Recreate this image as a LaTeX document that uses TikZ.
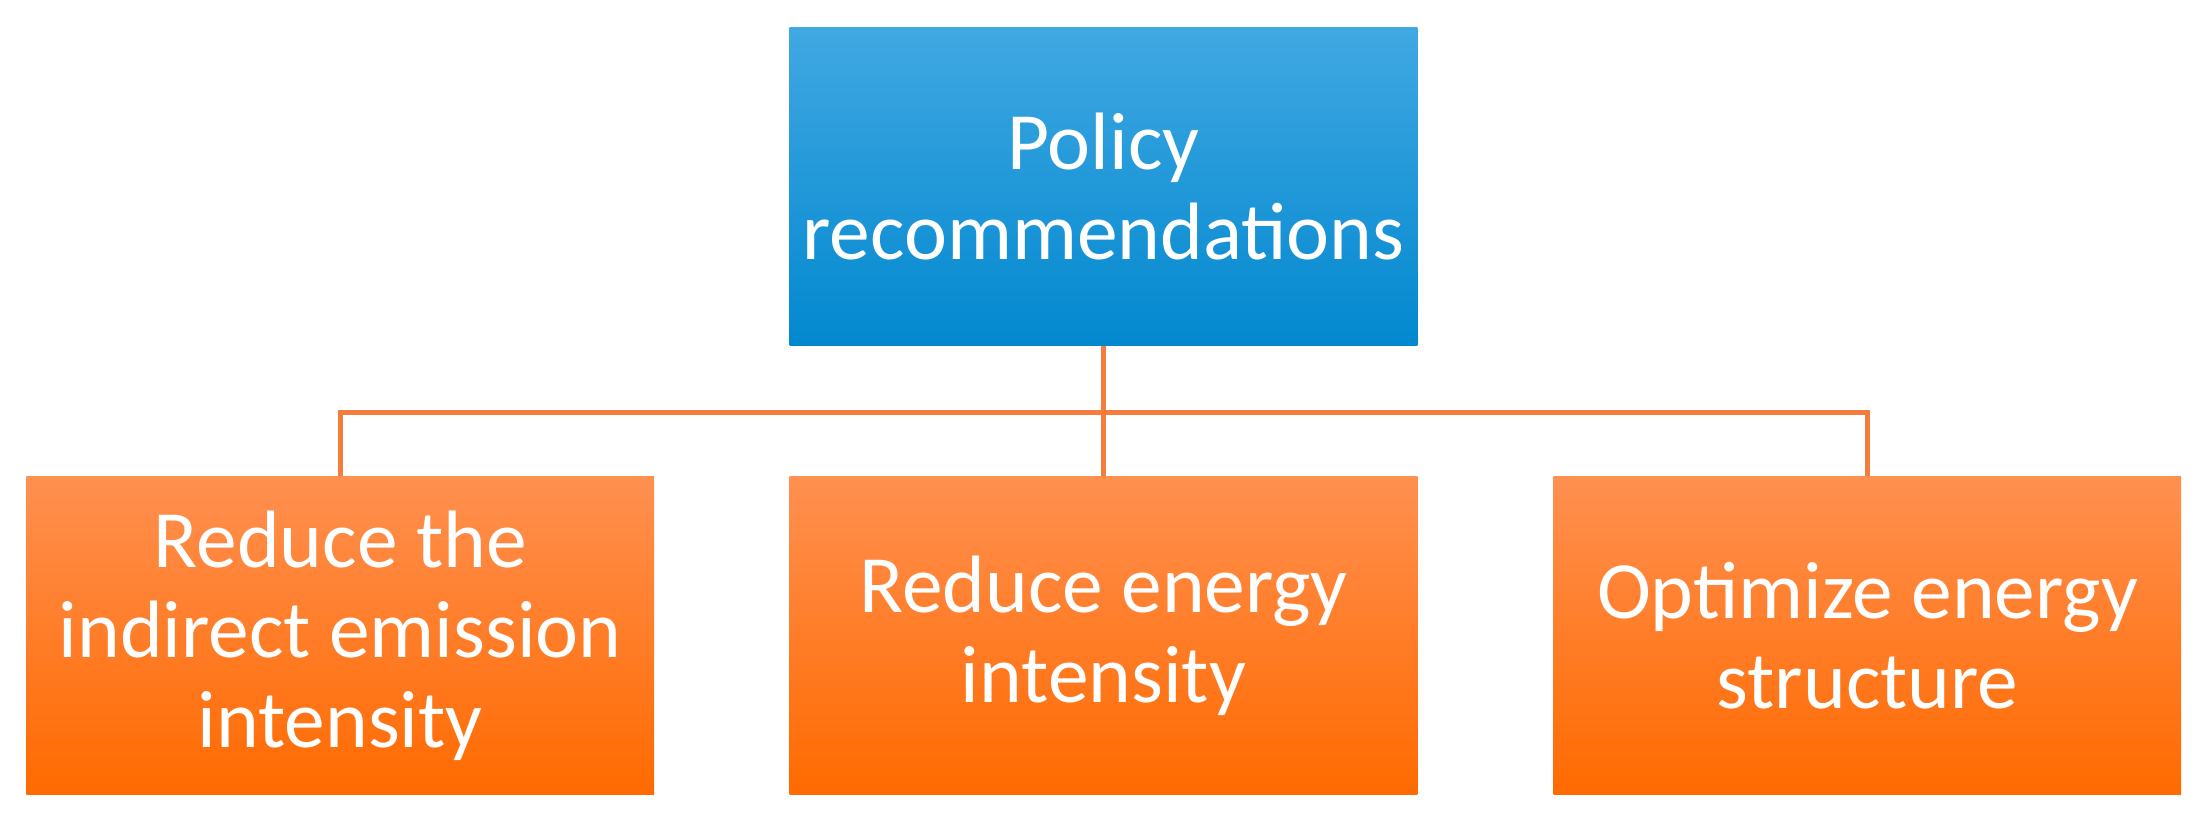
\documentclass[tikz,border=0pt]{standalone}
\usepackage{fontspec}
\setmainfont{Carlito}
\begin{document}
\begin{tikzpicture}[x=0.01cm,y=-0.01cm,
  boxb/.style={draw=none,inner xsep=0pt,minimum width=4.47cm,minimum height=2.26cm,align=center,text=white,font=\fontsize{16.5}{18.3}\selectfont},
  bluebox/.style={boxb,top color=blue1,bottom color=blue2},
  orangebox/.style={boxb,top color=or1,bottom color=or2},
  conn/.style={draw=lineor,line width=1pt}]
\definecolor{blue1}{HTML}{40A8E2}
\definecolor{blue2}{HTML}{0288CF}
\definecolor{or1}{HTML}{FF9050}
\definecolor{or2}{HTML}{FF6A00}
\definecolor{lineor}{HTML}{F47C3C}
\useasboundingbox (0,0) rectangle (1568,584);
\node[bluebox] (top) at (786.5,133) {Policy\\recommendations};
\node[orangebox] (a) at (242.5,453) {Reduce the\\indirect emission\\intensity};
\node[orangebox] (b) at (786.5,453) {Reduce energy\\intensity};
\node[orangebox] (c) at (1331,453) {Optimize energy\\structure};
\coordinate (j) at (786.5,294);
\draw[conn] (top.south) -- (b.north);
\draw[conn] (a.north) |- (j) -| (c.north);
\end{tikzpicture}
\end{document}
